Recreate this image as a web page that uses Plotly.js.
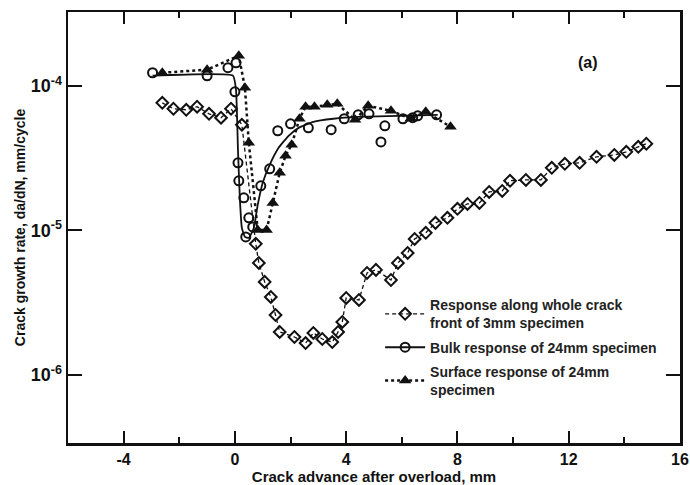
<!DOCTYPE html>
<html>
<head>
<meta charset="utf-8">
<script src="https://cdn.plot.ly/plotly-3.0.1.min.js"></script>
<style>
  html, body { margin: 0; padding: 0; background: #fff; }
  #chart { width: 690px; height: 485px; }
</style>
</head>
<body>
<div id="chart"></div>
<script>
// Crack advance (mm) and growth rate (mm/cycle) for each test series

// 3 mm specimen, whole crack front
const thinX = [-2.61, -2.21, -1.75, -1.36, -0.93, -0.50, -0.14, 0.25, 0.75, 0.86, 1.07, 1.29, 1.46, 1.61,
  2.14, 2.54, 2.82, 3.14, 3.50, 3.71, 3.86, 4.00, 4.46, 4.75, 5.07, 5.61, 5.86, 6.21, 6.46, 6.86,
  7.21, 7.64, 8.00, 8.36, 8.79, 9.14, 9.61, 9.89, 10.46, 11.00, 11.39, 11.86, 12.39, 13.00, 13.64,
  14.07, 14.50, 14.79];
const thinLogY = [-4.118, -4.159, -4.166, -4.145, -4.194, -4.221, -4.159, -4.270, -5.093, -5.225, -5.356,
  -5.460, -5.585, -5.702, -5.737, -5.779, -5.709, -5.751, -5.772, -5.702, -5.633, -5.467, -5.481,
  -5.294, -5.273, -5.343, -5.225, -5.156, -5.059, -5.017, -4.948, -4.913, -4.851, -4.817, -4.810,
  -4.734, -4.727, -4.657, -4.651, -4.651, -4.567, -4.540, -4.533, -4.491, -4.478, -4.457, -4.422,
  -4.401];

// 24 mm specimen, bulk response (measured points)
const bulkX = [-2.96, -1.00, -0.25, 0.04, 0.00, 0.11, 0.14, 0.32, 0.50, 0.39, 0.64, 0.93, 1.25, 1.54,
  2.00, 2.64, 3.46, 3.93, 4.43, 4.82, 5.39, 5.25, 6.04, 6.39, 6.57, 7.25];
const bulkLogY = [-3.910, -3.931, -3.875, -3.841, -4.042, -4.533, -4.657, -4.775, -4.913, -5.045, -4.976,
  -4.692, -4.574, -4.311, -4.263, -4.291, -4.304, -4.228, -4.201, -4.194, -4.277, -4.388, -4.228,
  -4.221, -4.208, -4.201];

// 24 mm specimen, bulk response (fitted trend)
const bulkFitX = [-2.96, -0.07, 0.04, 0.11, 0.18, 0.25, 0.36, 0.50, 0.68, 0.82, 1.00, 1.25, 1.57, 1.93,
  2.29, 2.82, 3.54, 4.43, 5.86, 7.29];
const bulkFitLogY = [-3.930, -3.930, -4.028, -4.443, -4.789, -4.983, -5.045, -5.052, -4.983, -4.824,
  -4.671, -4.547, -4.429, -4.346, -4.291, -4.249, -4.228, -4.215, -4.208, -4.201];

// 24 mm specimen, surface response
const surfX = [-2.61, -1.00, 0.14, 0.36, 0.50, 0.82, 1.14, 1.36, 1.61, 1.82, 2.04, 2.32, 2.54, 2.86,
  3.32, 3.68, 4.32, 4.79, 5.61, 6.32, 6.86, 7.75];
const surfLogY = [-3.910, -3.889, -3.792, -4.014, -4.394, -4.997, -4.997, -4.810, -4.602, -4.484, -4.408,
  -4.228, -4.145, -4.145, -4.131, -4.125, -4.235, -4.138, -4.173, -4.228, -4.180, -4.284];

const seriesNames = [
  'Response along whole crack<br>front of 3mm specimen',
  'Bulk response of 24mm specimen',
  'Surface response of 24mm<br>specimen'
];

const yTickVals = [1e-6, 1e-5, 1e-4];
const yTickText = ['<b>10<sup>-6</sup></b>', '<b>10<sup>-5</sup></b>', '<b>10<sup>-4</sup></b>'];
const xTickVals = [-4, 0, 4, 8, 12, 16];
const xTickText = ['<b>-4</b>', '<b>0</b>', '<b>4</b>', '<b>8</b>', '<b>12</b>', '<b>16</b>'];

const pow10 = a => a.map(v => Math.pow(10, v));
const ink = '#111';
const FONT = 'Liberation Sans, Arial, sans-serif';

const traces = [
  {
    x: thinX, y: pow10(thinLogY), name: seriesNames[0], legendgroup: 'thin',
    mode: 'lines+markers', type: 'scatter',
    line: { color: ink, width: 1.3, dash: '4px,3px' },
    marker: { symbol: 'diamond-open', size: 9, color: ink, line: { width: 2, color: ink } }
  },
  {
    x: bulkFitX, y: pow10(bulkFitLogY), showlegend: false, hoverinfo: 'skip', legendgroup: 'bulk',
    mode: 'lines', type: 'scatter', line: { color: ink, width: 1.8, shape: 'spline', smoothing: 0.4 }
  },
  {
    x: bulkX, y: pow10(bulkLogY), showlegend: false, legendgroup: 'bulk',
    mode: 'markers', type: 'scatter',
    marker: { symbol: 'circle-open', size: 9, color: ink, line: { width: 2, color: ink } }
  },
  {
    // legend entry for the bulk series (points + fitted line)
    x: [null], y: [null], name: seriesNames[1], legendgroup: 'bulk',
    mode: 'lines+markers', type: 'scatter',
    line: { color: ink, width: 2 },
    marker: { symbol: 'circle-open', size: 9, color: ink, line: { width: 2, color: ink } }
  },
  {
    x: surfX, y: pow10(surfLogY), name: seriesNames[2], legendgroup: 'surf',
    mode: 'lines+markers', type: 'scatter',
    line: { color: ink, width: 2.5, dash: 'dot' },
    marker: { symbol: 'triangle-up', size: 11, color: ink }
  }
];

const layout = {
  width: 690, height: 485,
  margin: { l: 68, r: 10, t: 12, b: 42 },
  paper_bgcolor: '#fff', plot_bgcolor: '#fff',
  font: { family: FONT, color: ink },
  showlegend: true,
  legend: {
    x: 0.51, y: 0.357, xanchor: 'left', yanchor: 'top',
    bgcolor: 'rgba(0,0,0,0)', borderwidth: 0, traceorder: 'grouped',
    font: { family: FONT, size: 14, weight: 'bold', color: '#222' },
    itemwidth: 40, tracegroupgap: 3
  },
  xaxis: {
    range: [-6, 16], tickvals: xTickVals, ticktext: xTickText,
    ticks: 'inside', ticklen: 12, tickwidth: 2, tickcolor: ink,
    minor: { ticks: 'inside', ticklen: 6, tickwidth: 2, dtick: 2, tick0: -2, tickcolor: ink, showgrid: false },
    showline: true, linewidth: 2.5, linecolor: ink, mirror: 'ticks',
    showgrid: false, zeroline: false,
    tickfont: { family: FONT, size: 16, color: ink },
    title: { text: '<b>Crack advance after overload, mm</b>', standoff: 3,
      font: { family: FONT, size: 15, color: ink } }
  },
  yaxis: {
    type: 'log', range: [-6.47, -3.49],
    tickvals: yTickVals, ticktext: yTickText,
    ticks: 'inside', ticklen: 14, tickwidth: 2, tickcolor: ink,
    showline: true, linewidth: 2.5, linecolor: ink, mirror: 'ticks',
    showgrid: false, zeroline: false,
    tickfont: { family: FONT, size: 18, color: ink },
    title: { text: '<b>Crack growth rate, da/dN, mm/cycle</b>', standoff: 2,
      font: { family: FONT, size: 14, color: ink } }
  },
  annotations: [
    { xref: 'paper', yref: 'paper', x: 0.869, y: 0.907, showarrow: false,
      text: '<b>(a)</b>', font: { family: FONT, size: 16, color: ink } }
  ]
};

Plotly.newPlot('chart', traces, layout, { displayModeBar: false, staticPlot: true });
</script>
</body>
</html>
